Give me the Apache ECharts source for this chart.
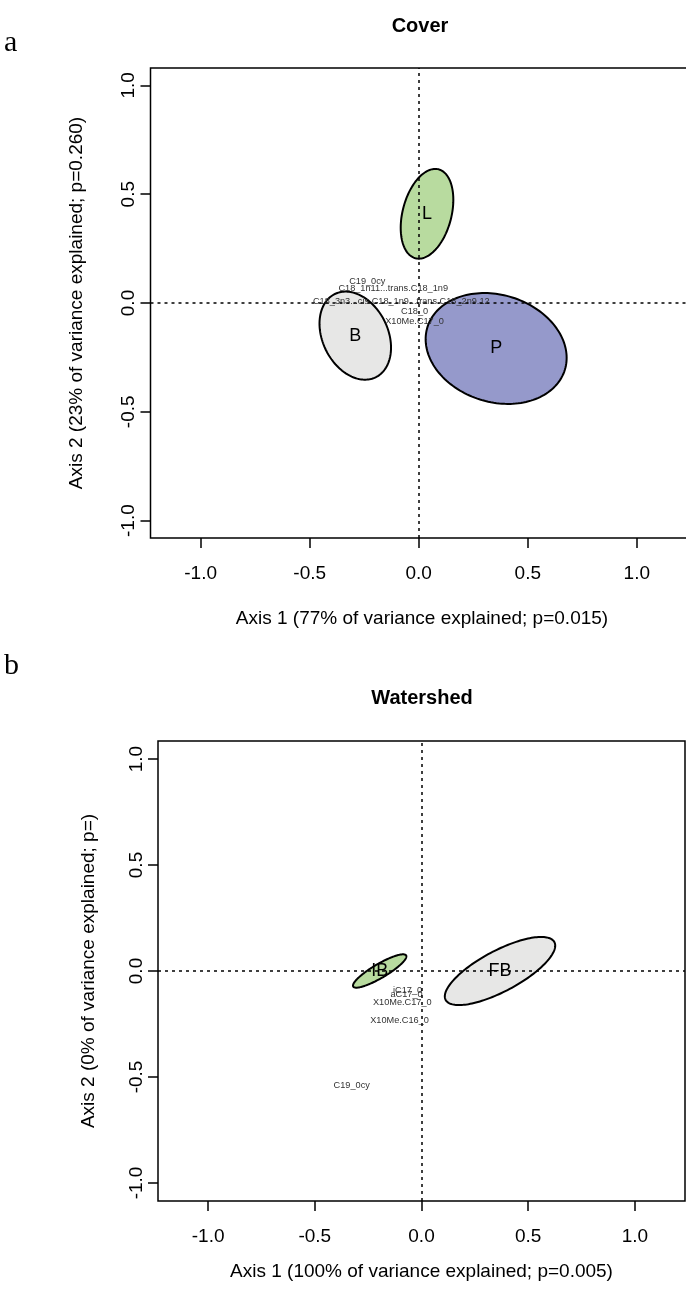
<!DOCTYPE html>
<html>
<head>
<meta charset="utf-8">
<script src="https://cdn.jsdelivr.net/npm/echarts@6/dist/echarts.min.js"></script>
<style>html,body{margin:0;padding:0;background:#fff;}#c{width:686px;height:1291px;}</style>
</head>
<body>
<div id="c"></div>
<script>
// ---------- data ----------
const tickValues = [-1, -0.5, 0, 0.5, 1];

// Panel a: Cover
const coverGroups = ['L', 'B', 'P'];
const coverCx = [0.038, -0.291, 0.355];
const coverCy = [0.410, -0.150, -0.209];
const coverSemiA = [0.211, 0.213, 0.330];
const coverSemiB = [0.112, 0.150, 0.246];
const coverAngle = [75.5, 116, -17.5];
const coverSpecies = ['C19_0cy', 'C18_1n11...trans.C18_1n9', 'C18_3n3...cis.C18_1n9...trans.C18_2n9.12', 'C18_0', 'X10Me.C17_0'];
const coverSpX = [-0.236, -0.117, -0.080, -0.019, -0.019];
const coverSpY = [0.097, 0.067, 0.009, -0.041, -0.083];

// Panel b: Watershed
const wsGroups = ['IB', 'FB'];
const wsCx = [-0.196, 0.368];
const wsCy = [0.0, 0.0];
const wsSemiA = [0.144, 0.289];
const wsSemiB = [0.033, 0.096];
const wsAngle = [30.6, 28.2];
const wsSpecies = ['iC17_0', 'aC17_0', 'X10Me.C17_0', 'X10Me.C16_0', 'C19_0cy'];
const wsSpX = [-0.065, -0.070, -0.090, -0.103, -0.327];
const wsSpY = [-0.090, -0.112, -0.149, -0.234, -0.542];

// ---------- styles ----------
const FONT = 'Liberation Sans, Arial, sans-serif';
const MAIN = 19;
const coverFills = ['#b8db9f', '#e7e7e6', '#9599cb'];
const wsFills = ['#b8db9f', '#e7e7e6'];

function ellipseRender(fills) {
  return function (params, api) {
    const cx = api.value(0), cy = api.value(1), a = api.value(2), b = api.value(3);
    const ang = api.value(4) * Math.PI / 180;
    const pts = [];
    const n = 160;
    for (let i = 0; i < n; i++) {
      const t = i / n * 2 * Math.PI;
      const x = cx + a * Math.cos(t) * Math.cos(ang) - b * Math.sin(t) * Math.sin(ang);
      const y = cy + a * Math.cos(t) * Math.sin(ang) + b * Math.sin(t) * Math.cos(ang);
      pts.push(api.coord([x, y]));
    }
    return { type: 'polygon', shape: { points: pts }, style: { fill: fills[params.dataIndex], stroke: '#000', lineWidth: 2 } };
  };
}
function textRender(names, size, color) {
  return function (params, api) {
    const p = api.coord([api.value(0), api.value(1)]);
    return { type: 'text', x: p[0], y: p[1], style: { text: names[params.dataIndex], fontSize: size, fontFamily: FONT, fill: color, align: 'center', verticalAlign: 'middle' } };
  };
}

function xAxisDef(idx, min, max, name, gap) {
  return {
    gridIndex: idx, type: 'value', min: min, max: max, position: 'bottom',
    name: name, nameLocation: 'middle', nameGap: gap,
    nameTextStyle: { fontSize: MAIN, fontFamily: FONT, color: '#000' },
    axisLine: { show: false, onZero: false },
    axisTick: { show: true, customValues: tickValues, length: 10, lineStyle: { color: '#000', width: 1.5 } },
    axisLabel: { show: true, customValues: tickValues, margin: 26, fontSize: MAIN, fontFamily: FONT, color: '#000', formatter: v => v.toFixed(1) },
    splitLine: { show: false }
  };
}
function yAxisDef(idx, min, max, name, gap) {
  return {
    gridIndex: idx, type: 'value', min: min, max: max, position: 'left',
    name: name, nameLocation: 'middle', nameGap: gap, nameRotate: 90,
    nameTextStyle: { fontSize: MAIN, fontFamily: FONT, color: '#000' },
    axisLine: { show: false, onZero: false },
    axisTick: { show: true, customValues: tickValues, length: 10, lineStyle: { color: '#000', width: 1.5 } },
    axisLabel: { show: true, rotate: 90, customValues: tickValues, margin: 12, fontSize: MAIN, fontFamily: FONT, color: '#000', formatter: v => v.toFixed(1) },
    splitLine: { show: false }
  };
}
function zeroLines(idx) {
  return {
    type: 'scatter', xAxisIndex: idx, yAxisIndex: idx, data: [], z: 5, silent: true,
    markLine: {
      silent: true, symbol: ['none', 'none'], label: { show: false },
      lineStyle: { color: '#000', type: [3, 4], width: 1.5 },
      data: [{ xAxis: 0 }, { yAxis: 0 }]
    }
  };
}

const chart = echarts.init(document.getElementById('c'), null, { renderer: 'canvas' });
chart.setOption({
  backgroundColor: '#fff',
  animation: false,
  grid: [
    { left: 150.5, top: 68, width: 543, height: 470, outerBoundsMode: 'none', containLabel: false, show: true, borderColor: '#000', borderWidth: 1.5, backgroundColor: 'transparent' },
    { left: 158, top: 741, width: 527, height: 460, outerBoundsMode: 'none', containLabel: false, show: true, borderColor: '#000', borderWidth: 1.5, backgroundColor: 'transparent' }
  ],
  xAxis: [
    xAxisDef(0, -1.23, 1.26, 'Axis 1 (77% of variance explained; p=0.015)', 71),
    xAxisDef(1, -1.235, 1.235, 'Axis 1 (100% of variance explained; p=0.005)', 61)
  ],
  yAxis: [
    yAxisDef(0, -1.08, 1.08, 'Axis 2 (23% of variance explained; p=0.260)', 64),
    yAxisDef(1, -1.085, 1.085, 'Axis 2 (0% of variance explained; p=)', 60)
  ],
  graphic: [
    { type: 'text', x: 420, y: 26, style: { text: 'Cover', fontSize: 20, fontWeight: 'bold', fontFamily: FONT, fill: '#000', align: 'center', verticalAlign: 'middle' } },
    { type: 'text', x: 422, y: 698, style: { text: 'Watershed', fontSize: 20, fontWeight: 'bold', fontFamily: FONT, fill: '#000', align: 'center', verticalAlign: 'middle' } },
    { type: 'text', x: 4, y: 43, style: { text: 'a', fontSize: 30, fontFamily: 'Liberation Serif, serif', fill: '#000', align: 'left', verticalAlign: 'middle' } },
    { type: 'text', x: 4, y: 666, style: { text: 'b', fontSize: 30, fontFamily: 'Liberation Serif, serif', fill: '#000', align: 'left', verticalAlign: 'middle' } }
  ],
  series: [
    {
      type: 'custom', xAxisIndex: 0, yAxisIndex: 0, z: 2, silent: true,
      renderItem: ellipseRender(coverFills),
      data: coverGroups.map((g, i) => [coverCx[i], coverCy[i], coverSemiA[i], coverSemiB[i], coverAngle[i]])
    },
    {
      type: 'custom', xAxisIndex: 0, yAxisIndex: 0, z: 4, silent: true,
      renderItem: textRender(coverGroups, 18, '#000'),
      data: coverGroups.map((g, i) => [coverCx[i], coverCy[i]])
    },
    {
      type: 'custom', xAxisIndex: 0, yAxisIndex: 0, z: 4, silent: true,
      renderItem: textRender(coverSpecies, 9.2, '#333'),
      data: coverSpecies.map((s, i) => [coverSpX[i], coverSpY[i]])
    },
    zeroLines(0),
    {
      type: 'custom', xAxisIndex: 1, yAxisIndex: 1, z: 2, silent: true,
      renderItem: ellipseRender(wsFills),
      data: wsGroups.map((g, i) => [wsCx[i], wsCy[i], wsSemiA[i], wsSemiB[i], wsAngle[i]])
    },
    {
      type: 'custom', xAxisIndex: 1, yAxisIndex: 1, z: 4, silent: true,
      renderItem: textRender(wsGroups, 18, '#000'),
      data: wsGroups.map((g, i) => [wsCx[i], wsCy[i]])
    },
    {
      type: 'custom', xAxisIndex: 1, yAxisIndex: 1, z: 4, silent: true,
      renderItem: textRender(wsSpecies, 9.2, '#333'),
      data: wsSpecies.map((s, i) => [wsSpX[i], wsSpY[i]])
    },
    zeroLines(1)
  ]
});
</script>
</body>
</html>
